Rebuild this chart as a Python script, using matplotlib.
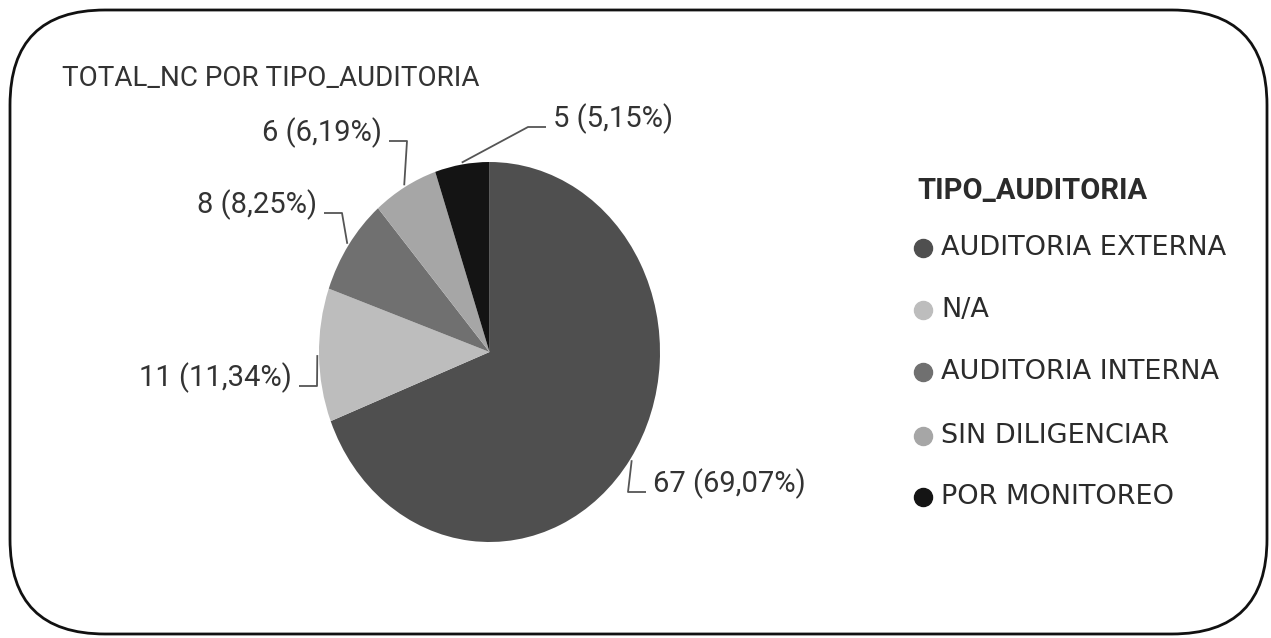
import numpy as np
import matplotlib
matplotlib.use("Agg")
import matplotlib.pyplot as plt
from matplotlib.patches import FancyBboxPatch

# data
categories = ["AUDITORIA EXTERNA", "N/A", "AUDITORIA INTERNA", "SIN DILIGENCIAR", "POR MONITOREO"]
values = [67, 11, 8, 6, 5]
colors = ["#4f4f4f", "#bdbdbd", "#707070", "#a6a6a6", "#141414"]
title = "TOTAL_NC POR TIPO_AUDITORIA"
legend_title = "TIPO_AUDITORIA"

# label text positions in pixels (x, y, ha)
label_pos = [(653, 484, "left"), (292, 378, "right"), (317, 205, "right"),
             (382, 133, "right"), (553, 119, "left")]

W, H = 1271, 638
narrow = ["Roboto", "DejaVu Sans"]

fig = plt.figure(figsize=(W / 100, H / 100), dpi=100)
fig.patch.set_facecolor("white")

bg = fig.add_axes([0, 0, 1, 1])
bg.set_xlim(0, W)
bg.set_ylim(H, 0)
bg.axis("off")

box = FancyBboxPatch((10, 10), 1257, 624, boxstyle="round,pad=0,rounding_size=95",
                     fc="none", ec="#111111", lw=2.0)
bg.add_patch(box)

bg.text(62, 78, title, family=narrow, fontsize=20, color="#333333", va="center", ha="left")

# pie
ax = fig.add_axes([319 / W, (H - 542) / H, 341 / W, 380 / H])
wedges, _ = ax.pie(values, colors=colors, startangle=90, counterclock=False,
                   wedgeprops=dict(linewidth=0))
ax.set_aspect("auto")
ax.set_xlim(-1, 1)
ax.set_ylim(-1, 1)

total = sum(values)
to_bg = bg.transData.inverted()
for w, v, (tx, ty, ha) in zip(wedges, values, label_pos):
    mid = np.deg2rad((w.theta1 + w.theta2) / 2)
    px, py = to_bg.transform(ax.transData.transform((1.01 * np.cos(mid), 1.01 * np.sin(mid))))
    lab = f"{v} ({v / total * 100:.2f}%)".replace(".", ",")
    bg.text(tx, ty, lab, family=narrow, fontsize=21, color="#333333", ha=ha, va="center")
    if ha == "left":
        ex = tx - 7
        elx = ex - 18
    else:
        ex = tx + 7
        elx = ex + 18
    ey = ty + 8
    bg.plot([px, elx, ex], [py, ey, ey], color="#555555", lw=1.3, solid_capstyle="butt")

# legend
bg.text(917, 191, legend_title, family=narrow, fontsize=21, fontweight="bold",
        color="#2b2b2b", va="center", ha="left")
leg_y = [248, 310, 372, 436, 497]
for name, c, y in zip(categories, colors, leg_y):
    bg.plot(923, y, "o", ms=13, color=c, mec=c)
    bg.text(941, y, name, family="DejaVu Sans", fontsize=19.5, color="#2b2b2b",
            va="center", ha="left")

fig.savefig("out.png", dpi=100, facecolor="white")
